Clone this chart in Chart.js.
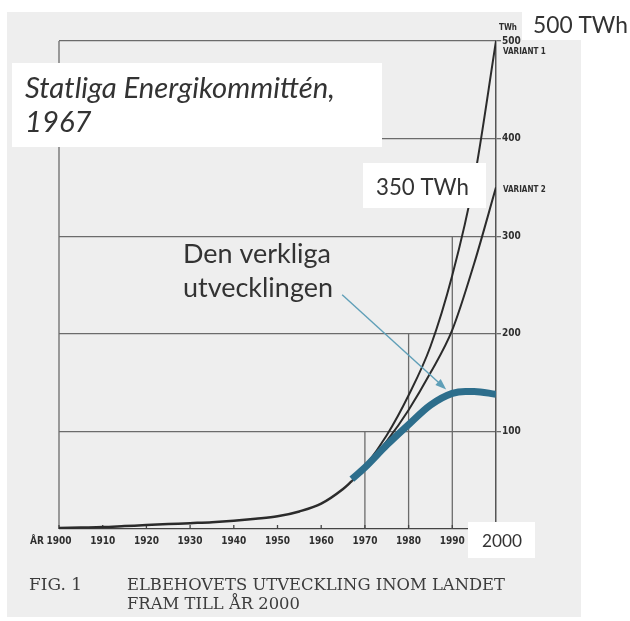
<!DOCTYPE html>
<html>
<head>
<meta charset="utf-8">
<script src="https://cdn.jsdelivr.net/npm/chart.js@4.4.0/dist/chart.umd.min.js"></script>
<style>
html, body { margin: 0; padding: 0; background: #ffffff; }
#chart { display: block; }
</style>
</head>
<body>
<canvas id="chart" width="630" height="621"></canvas>
<script>
// common history up to 1967, TWh
const histYears = [1900, 1905, 1910, 1915, 1920, 1925, 1930, 1935, 1940, 1945, 1950, 1955, 1960, 1965, 1967];
const histValues = [1, 1.5, 2, 3, 4, 5, 6, 7, 8.5, 10.5, 13, 18, 26, 41, 49];

// the two forecasts from 1967
const forecastYears = [1967, 1970, 1975, 1980, 1985, 1990, 1995, 2000];
const variant1 = [49, 64, 96, 137, 187, 260, 358, 500];
const variant2 = [49, 63, 90, 122, 160, 204, 272, 350];

// what really happened
const actualYears = [1967, 1970, 1975, 1980, 1985, 1990, 1993, 1995, 2000];
const actualValues = [51, 63, 86, 107, 127, 139, 141, 141, 138];

const decadeTicks = [1900, 1910, 1920, 1930, 1940, 1950, 1960, 1970, 1980, 1990];
// vertical grid lines only reach up to a given level (staircase)
const stepYears = [1970, 1980, 1990];
const stepTops = [100, 200, 300];

const ink = '#2b2b2b';
const gridColor = '#6b6b6b';
const actualColor = '#2d6e8c';
const arrowColor = '#5f9fb8';
const tickFont = '"DejaVu Sans Condensed", "DejaVu Sans"';

function toPoints(xs, ys) {
    return xs.map((x, i) => ({ x: x, y: ys[i] }));
}

function fitSize(ctx, text, style, family, targetWidth) {
    ctx.font = style + ' 20px ' + family;
    return 20 * targetWidth / ctx.measureText(text).width;
}

function stretchText(ctx, text, x, y, targetWidth) {
    const w = ctx.measureText(text).width;
    ctx.save();
    ctx.translate(x, y);
    ctx.scale(targetWidth / w, 1);
    ctx.fillText(text, 0, 0);
    ctx.restore();
    return targetWidth / w;
}

const paperPlugin = {
    id: 'paper',
    beforeDraw(chart) {
        const ctx = chart.ctx;
        ctx.save();
        ctx.fillStyle = '#ffffff';
        ctx.fillRect(0, 0, chart.width, chart.height);
        ctx.fillStyle = '#eeeeee';
        ctx.fillRect(7, 12, 574, 605);
        ctx.restore();
    }
};

const framePlugin = {
    id: 'frame',
    beforeDatasetsDraw(chart) {
        const ctx = chart.ctx;
        const xs = chart.scales.x;
        const ys = chart.scales.y;
        const bottom = ys.getPixelForValue(0);
        ctx.save();
        ctx.strokeStyle = gridColor;
        ctx.lineWidth = 1.3;

        // left axis
        ctx.beginPath();
        ctx.moveTo(xs.getPixelForValue(1900), bottom);
        ctx.lineTo(xs.getPixelForValue(1900), ys.getPixelForValue(500));
        ctx.stroke();

        stepYears.forEach((year, i) => {
            const px = xs.getPixelForValue(year);
            ctx.beginPath();
            ctx.moveTo(px, bottom);
            ctx.lineTo(px, ys.getPixelForValue(stepTops[i]));
            ctx.stroke();
        });

        // small decade ticks above the axis
        ctx.strokeStyle = '#444';
        decadeTicks.forEach(year => {
            const px = xs.getPixelForValue(year);
            ctx.beginPath();
            ctx.moveTo(px, bottom);
            ctx.lineTo(px, bottom - 4);
            ctx.stroke();
        });
        ctx.restore();
    },
    afterDraw(chart) {
        const ctx = chart.ctx;
        const xs = chart.scales.x;
        const ys = chart.scales.y;
        const bottom = ys.getPixelForValue(0);
        const right = xs.getPixelForValue(2000);

        ctx.save();
        // year labels
        ctx.fillStyle = '#2e2e2e';
        ctx.font = 'bold 10px ' + tickFont;
        ctx.textBaseline = 'alphabetic';
        ctx.textAlign = 'center';
        decadeTicks.forEach(year => {
            ctx.fillText(String(year), xs.getPixelForValue(year), bottom + 15);
        });
        ctx.textAlign = 'right';
        ctx.fillText('ÅR', xs.getPixelForValue(1900) - 15, bottom + 15);

        // unit and variant names on the right side
        ctx.textAlign = 'left';
        ctx.font = 'bold 8px ' + tickFont;
        ctx.fillText('TWh', right + 3, ys.getPixelForValue(511));
        ctx.fillText('VARIANT 1', right + 7, ys.getPixelForValue(487));
        ctx.fillText('VARIANT 2', right + 7, ys.getPixelForValue(345));

        // printed caption
        ctx.fillStyle = '#3c3c3c';
        ctx.font = '17px "DejaVu Serif"';
        stretchText(ctx, 'FIG. 1', 29, 590, 53);
        const sx = stretchText(ctx, 'ELBEHOVETS UTVECKLING INOM LANDET', 127, 590, 378);
        const w2 = ctx.measureText('FRAM TILL ÅR 2000').width * sx;
        stretchText(ctx, 'FRAM TILL ÅR 2000', 127, 609, w2);

        // white label boxes pasted on top
        ctx.fillStyle = '#ffffff';
        ctx.fillRect(12, 63, 370, 84);
        ctx.fillRect(522, 0, 108, 40);
        ctx.fillRect(363, 163, 123, 45);
        ctx.fillRect(468, 522, 67, 36);

        ctx.fillStyle = '#333';
        const titleSize = fitSize(ctx, 'Statliga Energikommittén,', 'italic', 'Lato', 310);
        ctx.font = 'italic ' + titleSize + 'px Lato';
        ctx.fillText('Statliga Energikommittén,', 25, 98);
        ctx.fillText('1967', 25, 132);

        let s = fitSize(ctx, '500 TWh', '', 'Lato', 95);
        ctx.font = s + 'px Lato';
        ctx.fillText('500 TWh', 533, 33);
        s = fitSize(ctx, '350 TWh', '', 'Lato', 93);
        ctx.font = s + 'px Lato';
        ctx.fillText('350 TWh', 376, 195);
        s = fitSize(ctx, '2000', '', 'Lato', 40);
        ctx.font = s + 'px Lato';
        ctx.fillText('2000', 482, 547);

        s = fitSize(ctx, 'utvecklingen', '', 'Lato', 150);
        ctx.font = s + 'px Lato';
        ctx.fillText('Den verkliga', 183, 263);
        ctx.fillText('utvecklingen', 183, 297);

        // arrow pointing at the real curve
        const x0 = xs.getPixelForValue(1964.8);
        const y0 = ys.getPixelForValue(240);
        const x1 = xs.getPixelForValue(1988.6);
        const y1 = ys.getPixelForValue(143);
        const ang = Math.atan2(y1 - y0, x1 - x0);
        ctx.strokeStyle = arrowColor;
        ctx.fillStyle = arrowColor;
        ctx.lineWidth = 1.4;
        ctx.beginPath();
        ctx.moveTo(x0, y0);
        ctx.lineTo(x1 - 8 * Math.cos(ang), y1 - 8 * Math.sin(ang));
        ctx.stroke();
        ctx.beginPath();
        ctx.moveTo(x1, y1);
        ctx.lineTo(x1 - 11 * Math.cos(ang) + 4 * Math.sin(ang), y1 - 11 * Math.sin(ang) - 4 * Math.cos(ang));
        ctx.lineTo(x1 - 11 * Math.cos(ang) - 4 * Math.sin(ang), y1 - 11 * Math.sin(ang) + 4 * Math.cos(ang));
        ctx.closePath();
        ctx.fill();
        ctx.restore();
    }
};

new Chart(document.getElementById('chart'), {
    type: 'line',
    data: {
        datasets: [
            {
                label: 'Den verkliga utvecklingen',
                data: toPoints(actualYears, actualValues),
                borderColor: actualColor,
                borderWidth: 7,
                order: 0
            },
            {
                label: 'Historik',
                data: toPoints(histYears, histValues),
                borderColor: ink,
                borderWidth: 2.5,
                order: 1
            },
            {
                label: 'Variant 1',
                data: toPoints(forecastYears, variant1),
                borderColor: ink,
                borderWidth: 2,
                order: 1
            },
            {
                label: 'Variant 2',
                data: toPoints(forecastYears, variant2),
                borderColor: ink,
                borderWidth: 2,
                order: 1
            }
        ]
    },
    options: {
        responsive: false,
        animation: false,
        devicePixelRatio: 1,
        layout: {
            padding: { left: 59, top: 41, bottom: 92, right: 0 }
        },
        elements: {
            point: { radius: 0 },
            line: { cubicInterpolationMode: 'monotone', fill: false }
        },
        plugins: {
            legend: { display: false },
            tooltip: { enabled: false }
        },
        scales: {
            x: {
                type: 'linear',
                min: 1900,
                max: 2000,
                display: false
            },
            y: {
                type: 'linear',
                position: 'right',
                min: 0,
                max: 500,
                afterFit: function(scale) {
                    scale.width = 134;
                },
                border: { display: true, color: '#555', width: 1.5 },
                grid: {
                    color: function(context) {
                        return context.tick && context.tick.value === 0 ? '#444' : gridColor;
                    },
                    lineWidth: 1.3,
                    tickLength: 5
                },
                ticks: {
                    stepSize: 100,
                    padding: 1,
                    color: '#2e2e2e',
                    font: { family: tickFont, weight: 'bold', size: 10 },
                    callback: function(value) {
                        return value === 0 ? '' : value;
                    }
                }
            }
        }
    },
    plugins: [paperPlugin, framePlugin]
});
</script>
</body>
</html>
